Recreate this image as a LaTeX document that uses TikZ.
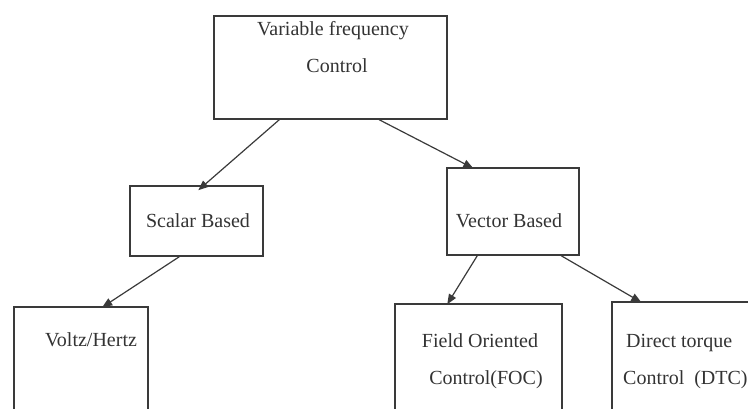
\documentclass[tikz,border=0pt]{standalone}
\usepackage{fontspec}
\setmainfont{Liberation Serif}
\usetikzlibrary{arrows.meta}
\definecolor{ink}{HTML}{333333}
\definecolor{frame}{HTML}{3A3A3A}
\begin{document}
\begin{tikzpicture}[x=1pt,y=-1pt,
  box/.style={draw=frame,line width=1.5pt,rectangle,inner sep=0pt},
  lbl/.style={text=ink,font=\fontsize{20}{24}\selectfont,inner sep=0pt,anchor=base},
  conn/.style={draw=frame,line width=1.2pt,-{Triangle[length=10pt,width=8pt]}}]
\useasboundingbox (0,0) rectangle (748,408);
\clip (0,0) rectangle (748,408);
% boxes
\node[box,minimum width=233pt,minimum height=103pt] (top) at (330.5,67.5) {};
\node[box,minimum width=133pt,minimum height=70pt] (scalar) at (196.5,221) {};
\node[box,minimum width=132pt,minimum height=87pt] (vector) at (513,211.5) {};
\node[box,minimum width=134pt,minimum height=123pt] (vh) at (81,368.5) {};
\node[box,minimum width=167pt,minimum height=126pt] (foc) at (478.5,367) {};
\node[box,minimum width=158pt,minimum height=128pt] (dtc) at (691,366) {};
% labels
\node[lbl] (t1) at (333,35) {Variable frequency};
\node[lbl] (t2) at (337,72) {Control};
\node[lbl] (t3) at (198,227) {Scalar Based};
\node[lbl] (t4) at (509,227) {Vector Based};
\node[lbl] (t5) at (91,346) {Voltz/Hertz};
\node[lbl] (t6) at (480,347) {Field Oriented};
\node[lbl] (t7) at (486,384) {Control(FOC)};
\node[lbl,anchor=base west] (t8) at (626,347) {Direct torque};
\node[lbl,anchor=base west] (t9) at (623,384) {Control\ \ (DTC)};
% connectors
\draw[conn] ([xshift=66pt]top.south west) -- ([xshift=69pt,yshift=-5pt]scalar.north west);
\draw[conn] ([xshift=166pt]top.south west) -- ([xshift=27pt,yshift=-1pt]vector.north west);
\draw[conn] ([xshift=50pt]scalar.south west) -- ([xshift=89pt,yshift=-1pt]vh.north west);
\draw[conn] ([xshift=31pt]vector.south west) -- ([xshift=53pt,yshift=-1pt]foc.north west);
\draw[conn] ([xshift=115pt]vector.south west) -- ([xshift=30pt,yshift=-1pt]dtc.north west);
\end{tikzpicture}
\end{document}
